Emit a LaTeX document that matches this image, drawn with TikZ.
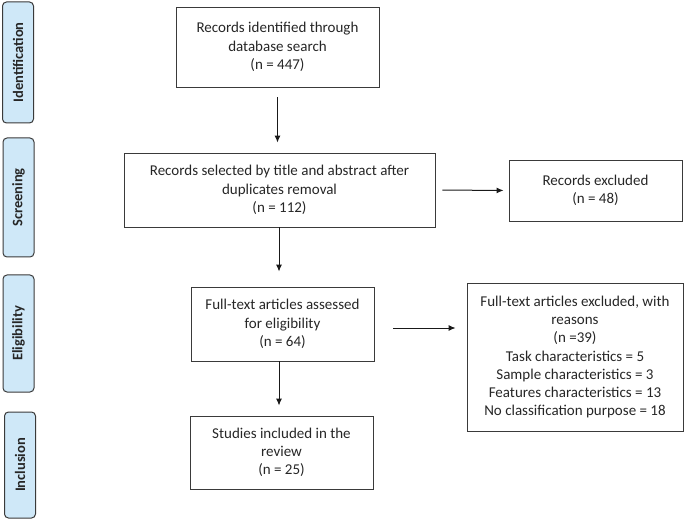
\documentclass[tikz,border=0pt]{standalone}
\usepackage{fontspec}
\setmainfont{Carlito}
\usetikzlibrary{arrows.meta}
\definecolor{sidefill}{HTML}{CFE8F8}
\definecolor{edge}{HTML}{3A3A3A}
\begin{document}
\begin{tikzpicture}[x=1pt,y=-1pt,
  flowbox/.style={draw=edge, line width=0.9pt, align=center, inner sep=2pt,
    font=\fontsize{15}{18.3}\selectfont, text=black!85},
  sidebox/.style={draw=edge, line width=1pt, fill=sidefill, rounded corners=4pt,
    minimum width=31pt, inner sep=0pt},
  sidetext/.style={rotate=90, font=\fontsize{14.5}{17}\selectfont\bfseries, text=black!85},
  flowarrow/.style={draw=black!90, line width=1pt, -{Latex[length=7pt,width=6pt]}}]
\useasboundingbox (0,0) rectangle (685,521);
% side labels
\node[sidebox, minimum height=121pt] (sid) at (18,62.5) {};
\node[sidetext] (tid) at (sid.center) {Identification};
\node[sidebox, minimum height=119pt] (sscr) at (18.5,197.5) {};
\node[sidetext] (tscr) at (sscr.center) {Screening};
\node[sidebox, minimum height=117pt] (selig) at (18.5,333.5) {};
\node[sidetext] (telig) at (selig.center) {Eligibility};
\node[sidebox, minimum height=106pt] (sinc) at (20,465) {};
\node[sidetext] (tinc) at (sinc.center) {Inclusion};
% flow boxes
\node[flowbox, minimum width=203pt, minimum height=80pt] (ident) at (277.5,47) {Records identified through\\database search\\(n = 447)};
\node[flowbox, minimum width=311pt, minimum height=74pt] (screen) at (279.5,190) {Records selected by title and abstract after\\duplicates removal\\(n = 112)};
\node[flowbox, minimum width=173pt, minimum height=61pt] (excl1) at (595.5,190.5) {Records excluded\\(n = 48)};
\node[flowbox, minimum width=183pt, minimum height=74pt] (elig) at (282.5,324) {Full-text articles assessed\\for eligibility\\(n = 64)};
\node[flowbox, minimum width=216pt, minimum height=148pt] (excl2) at (575,357) {Full-text articles excluded, with\\reasons\\(n =39)\\Task characteristics = 5\\Sample characteristics = 3\\Features characteristics = 13\\No classification purpose = 18};
\node[flowbox, minimum width=183pt, minimum height=73pt] (incl) at (281.5,452.5) {Studies included in the\\review\\(n = 25)};
% arrows
\draw[flowarrow, shorten <=10pt, shorten >=10pt] (ident.south) -- (ident.south |- screen.north);
\draw[flowarrow, shorten >=15pt] (screen.south -| elig.north) ++(-3.5,0) coordinate (s2) -- (s2 |- elig.north);
\draw[flowarrow, shorten <=7pt, shorten >=5pt] (screen.east) -- (excl1.west);
\draw[flowarrow, shorten >=10pt] (elig.south) ++(-3.5,0) coordinate (s3) -- (s3 |- incl.north);
\draw[flowarrow, shorten <=19pt, shorten >=11pt] (elig.east |- 0,328) coordinate (s4) -- (s4 -| excl2.west);
\end{tikzpicture}
\end{document}
